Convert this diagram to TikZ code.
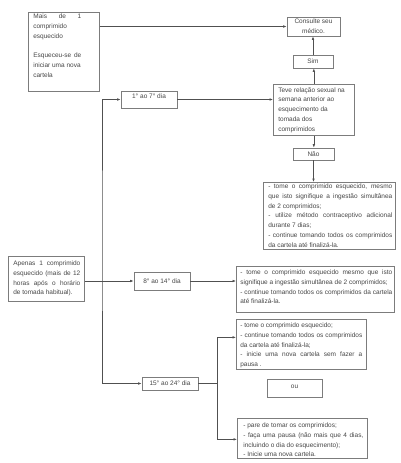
\documentclass[tikz,border=0pt]{standalone}
\usepackage{fontspec}
\setmainfont{Liberation Sans}
\usetikzlibrary{arrows.meta}
\definecolor{txtc}{HTML}{474747}
\definecolor{framec}{HTML}{7C7C7C}
\definecolor{connc}{HTML}{505050}
\newcommand\fsz{\fontsize{6.5}{9.75}\selectfont\hyphenpenalty=10000 \exhyphenpenalty=10000 }
% #1 width, #2 height, #3 left pad, #4 top pad, #5 text width, #6 text
\newcommand\pbox[6]{\makebox[#1pt][l]{\hspace*{#3pt}\parbox[c][#2pt][t]{#5pt}{\fsz\vspace*{#4pt}#6}}}
\begin{document}
\begin{tikzpicture}[x=1pt,y=-1pt,
  every node/.style={text=txtc},
  frame/.style={draw=framec, line width=0.7pt, inner sep=0pt, anchor=north west},
  tag/.style={draw=framec, line width=0.7pt, inner sep=0pt, align=center, font=\fsz},
  conn/.style={draw=connc, line width=0.6pt},
  arr/.style={conn, -{Latex[length=3.5pt,width=2.6pt]}},
  darr/.style={conn, {Latex[length=3.5pt,width=2.6pt]}-{Latex[length=3.5pt,width=2.6pt]}}]
\fill[white] (0,0) rectangle (400,463);
\useasboundingbox (0,0) rectangle (400,463);

\node[frame] (mais) at (28,12) {\pbox{71}{79}{5}{1.5}{48}{Mais de 1\linebreak comprimido\newline esquecido\\[9.75pt]Esqueceu-se de\linebreak iniciar uma nova\newline cartela}};

\node[tag, minimum width=53pt, minimum height=19pt] (consulte) at (313.5,26.5) {Consulte seu\\médico.};
\node[tag, minimum width=40pt, minimum height=13pt] (sim) at (313,61.5) {Sim};
\node[frame] (teve) at (273,84) {\pbox{81}{51}{5}{3}{75}{\raggedright Teve relação sexual na\\semana anterior ao\\esquecimento da\\tomada dos\\comprimidos}};
\node[tag, minimum width=41pt, minimum height=12pt] (nao) at (313.5,154) {Não};

\node[frame] (box1) at (263,182) {\pbox{132}{67}{5}{1.5}{124}{- tome o comprimido esquecido, mesmo\linebreak que isto signifique a ingestão simultânea\linebreak de 2 comprimidos;\newline - utilize método contraceptivo adicional\linebreak durante 7 dias;\newline - continue tomando todos os comprimidos\linebreak da cartela até finalizá-la.}};

\node[tag, minimum width=56pt, minimum height=17pt] (d1) at (149,99.5) {\raisebox{3pt}[\height][\depth]{1° ao 7° dia}};
\node[tag, minimum width=56pt, minimum height=18pt] (d8) at (162,281) {8° ao 14° dia};
\node[tag, minimum width=56pt, minimum height=13pt] (d15) at (170,383.5) {15° ao 24° dia};

\node[frame] (apenas) at (8,256) {\pbox{76}{45}{5}{4.5}{67}{Apenas 1 comprimido\linebreak esquecido (mais de 12\linebreak horas após o horário\linebreak de tomada habitual).}};

\node[frame] (box2) at (236,266) {\pbox{158}{46}{4}{3.5}{152}{- tome o comprimido esquecido mesmo que isto\linebreak signifique a ingestão simultânea de 2 comprimidos;\newline - continue tomando todos os comprimidos da cartela\linebreak até finalizá-la.}};

\node[frame] (box3) at (236,319) {\pbox{130}{50}{4}{3.5}{122}{- tome o comprimido esquecido;\newline - continue tomando todos os comprimidos\linebreak da cartela até finalizá-la;\newline - inicie uma nova cartela sem fazer a\linebreak pausa .}};

\node[tag, minimum width=55pt, minimum height=18pt] (ou) at (294.5,388) {\raisebox{1.5pt}[\height][\depth]{ou}};

\node[frame] (box4) at (237,418) {\pbox{130}{40}{6}{4.5}{120}{- pare de tomar os comprimidos;\newline - faça uma pausa (não mais que 4 dias,\linebreak incluindo o dia do esquecimento);\newline - Inicie uma nova cartela.}};

% connectors
\draw[arr] (mais.east |- consulte.west) -- (consulte.west);
\draw[arr] (teve.north) -- (teve.north |- sim.south);
\draw[arr] (sim.north) -- (sim.north |- consulte.south);
\draw[arr] (teve.south) -- (teve.south |- nao.north);
\draw[arr] (nao.south) -- (nao.south |- box1.north);
\draw[arr] (d1.east) -- (d1.east -| teve.west);
\coordinate (trunk) at (102,240);
\draw[darr] (d1.west) -| (trunk) |- (d15.west);
\draw[arr] (apenas.east |- d8.west) -- (d8.west);
\draw[arr] (d8.east) -- (d8.east -| box2.west);
\coordinate (split) at (217,383.5);
\draw[conn] (d15.east) -- (split);
\draw[arr] (split) |- ([yshift=7pt]box3.west);
\draw[arr] (split) |- ([yshift=-1pt]box4.west);
\end{tikzpicture}
\end{document}
